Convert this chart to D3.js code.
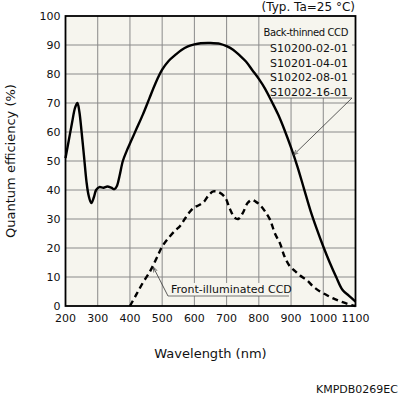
<!DOCTYPE html>
<html lang="en">
<head>
  <meta charset="UTF-8">
  <title>Quantum efficiency vs wavelength</title>
  <script src="https://d3js.org/d3.v7.min.js"></script>
  <style>
    body { margin: 0; background: #fff; }
    text { font-family: "DejaVu Sans", Verdana, sans-serif; fill: #111; }
    .tick-label { font-size: 11px; }
    .axis-title { font-size: 13px; }
    .note { font-size: 11px; }
  </style>
</head>
<body>
  <div id="chart"></div>

  <script>
    // back-thinned CCD curve (wavelength nm, QE %)
    const btWave = [200, 210, 220, 230, 237, 243, 250, 258, 265, 272, 280, 288, 295, 305, 318, 330, 342, 352, 360, 368, 378, 390, 400, 420, 440, 460, 480, 500, 520, 540, 560, 580, 600, 620, 650, 680, 700, 720, 740, 760, 780, 800, 820, 840, 860, 880, 900, 920, 940, 960, 980, 1000, 1020, 1040, 1060, 1080, 1100];
    const btQE = [51, 57, 63, 68.5, 70, 67, 60, 51, 43, 38, 35.5, 37.5, 40, 41, 40.8, 41.2, 40.8, 40.3, 41.5, 45, 50, 53.5, 56, 61, 66, 71.5, 77, 81.5, 84.5, 86.5, 88.3, 89.5, 90.2, 90.6, 90.7, 90.4, 89.6, 88.4, 86.5, 84.3, 81.3, 78.3, 74.8, 70.5, 66, 60.6, 54.6, 48, 40.5, 33, 26.5, 20.5, 15, 10, 5.5, 3.5, 1.5];

    // front-illuminated CCD curve
    const fiWave = [400, 420, 440, 460, 472, 485, 500, 520, 540, 555, 570, 586, 600, 615, 630, 645, 659, 675, 695, 710, 725, 736, 750, 765, 778, 790, 804, 820, 835, 850, 866, 880, 897, 915, 928, 950, 969, 990, 1010, 1031, 1060, 1088, 1100];
    const fiQE = [0, 4, 8, 11.5, 14, 17, 20.5, 23.5, 26, 27.5, 30, 32.5, 34, 34.8, 36, 38.3, 39.5, 39.3, 37.5, 33.5, 30.5, 30, 32, 35.5, 36.6, 36, 34.8, 32.5, 29.7, 25, 21.5, 17, 13.6, 11.8, 10.5, 8.8, 6.7, 5, 3.8, 2.6, 1.3, 0.3, 0];

    const xTicks = [200, 300, 400, 500, 600, 700, 800, 900, 1000, 1100];
    const yTicks = [0, 10, 20, 30, 40, 50, 60, 70, 80, 90, 100];
    const btLabels = ["S10200-02-01", "S10201-04-01", "S10202-08-01", "S10202-16-01"];

    const W = 399, H = 396;
    const margin = { top: 16, left: 65.5 };
    const width = 290, height = 290;
    const bg = "#f6f5ee";

    const svg = d3.select("#chart").append("svg")
      .attr("width", W).attr("height", H);

    const defs = svg.append("defs");
    defs.append("marker")
      .attr("id", "arrow")
      .attr("viewBox", "0 0 10 10")
      .attr("refX", 10).attr("refY", 5)
      .attr("markerWidth", 7).attr("markerHeight", 7)
      .attr("orient", "auto")
      .append("path")
      .attr("d", "M0,1.5 L10,5 L0,8.5")
      .attr("fill", "none")
      .attr("stroke", "#333")
      .attr("stroke-width", 1.2);

    const g = svg.append("g")
      .attr("transform", `translate(${margin.left},${margin.top})`);

    const x = d3.scaleLinear().domain([200, 1100]).range([0, width]);
    const y = d3.scaleLinear().domain([0, 100]).range([height, 0]);

    g.append("rect")
      .attr("width", width).attr("height", height)
      .attr("fill", bg);

    // grid
    g.selectAll(".vgrid").data(xTicks.slice(1, -1)).enter()
      .append("line")
      .attr("x1", d => x(d)).attr("x2", d => x(d))
      .attr("y1", 0).attr("y2", height)
      .attr("stroke", "#8a8a8a").attr("stroke-width", 1);
    g.selectAll(".hgrid").data(yTicks.slice(1, -1)).enter()
      .append("line")
      .attr("y1", d => y(d)).attr("y2", d => y(d))
      .attr("x1", 0).attr("x2", width)
      .attr("stroke", "#8a8a8a").attr("stroke-width", 1);

    // tick labels
    g.selectAll(".xl").data(xTicks).enter()
      .append("text")
      .attr("class", "tick-label")
      .attr("x", d => x(d)).attr("y", height + 16)
      .attr("text-anchor", "middle")
      .text(d => d);
    g.selectAll(".yl").data(yTicks).enter()
      .append("text")
      .attr("class", "tick-label")
      .attr("x", -5).attr("y", d => y(d) + 4)
      .attr("text-anchor", "end")
      .text(d => d);

    const line = d3.line()
      .x(d => x(d[0])).y(d => y(d[1]))
      .curve(d3.curveCatmullRom.alpha(0.5));

    g.append("path")
      .datum(fiWave.map((w, i) => [w, fiQE[i]]))
      .attr("d", line)
      .attr("fill", "none")
      .attr("stroke", "#000")
      .attr("stroke-width", 2.4)
      .attr("stroke-dasharray", "6,4");

    g.append("path")
      .datum(btWave.map((w, i) => [w, btQE[i]]))
      .attr("d", line)
      .attr("fill", "none")
      .attr("stroke", "#000")
      .attr("stroke-width", 2.4);

    // back-thinned label
    const bx1 = 272 - margin.left, bx2 = 352 - margin.left, by = 98 - margin.top;
    g.append("rect")
      .attr("x", bx1).attr("y", 1)
      .attr("width", bx2 - bx1).attr("height", by - 1)
      .attr("fill", bg);
    g.append("line")
      .attr("x1", bx1).attr("x2", bx2).attr("y1", by).attr("y2", by)
      .attr("stroke", "#555").attr("stroke-width", 0.8);
    g.append("line")
      .attr("x1", bx2).attr("y1", by)
      .attr("x2", x(907)).attr("y2", y(52))
      .attr("stroke", "#333").attr("stroke-width", 0.8)
      .attr("marker-end", "url(#arrow)");
    g.append("text")
      .attr("x", bx2 - 4).attr("y", 36 - margin.top)
      .attr("text-anchor", "end")
      .style("font-size", "10px")
      .style("letter-spacing", "-0.4px")
      .text("Back-thinned CCD");
    g.selectAll(".btl").data(btLabels).enter()
      .append("text")
      .attr("class", "note")
      .attr("x", bx2 - 4)
      .attr("y", (d, i) => 52 - margin.top + i * 14.5)
      .attr("text-anchor", "end")
      .text(d => d);

    // front-illuminated label
    const fx1 = 168 - margin.left, fx2 = 289 - margin.left, fy = 296 - margin.top;
    g.append("rect")
      .attr("x", fx1).attr("y", fy - 13)
      .attr("width", fx2 - fx1).attr("height", 13)
      .attr("fill", bg);
    g.append("line")
      .attr("x1", fx1).attr("x2", fx2).attr("y1", fy).attr("y2", fy)
      .attr("stroke", "#555").attr("stroke-width", 0.8);
    g.append("line")
      .attr("x1", fx1).attr("y1", fy)
      .attr("x2", x(472)).attr("y2", y(13.5))
      .attr("stroke", "#333").attr("stroke-width", 0.8)
      .attr("marker-end", "url(#arrow)");
    g.append("text")
      .attr("class", "note")
      .attr("x", fx1 + 3).attr("y", fy - 3)
      .text("Front-illuminated CCD");

    // frame
    g.append("rect")
      .attr("width", width).attr("height", height)
      .attr("fill", "none")
      .attr("stroke", "#000").attr("stroke-width", 1.8);

    // titles
    svg.append("text")
      .attr("class", "axis-title")
      .attr("x", margin.left + width / 2).attr("y", 358)
      .attr("text-anchor", "middle")
      .text("Wavelength (nm)");
    svg.append("text")
      .attr("class", "axis-title")
      .attr("transform", `translate(15,${margin.top + height / 2}) rotate(-90)`)
      .attr("text-anchor", "middle")
      .text("Quantum efficiency (%)");
    svg.append("text")
      .attr("class", "note")
      .attr("x", 355).attr("y", 11)
      .attr("text-anchor", "end")
      .style("font-size", "12px")
      .text("(Typ. Ta=25 °C)");
    svg.append("text")
      .attr("class", "note")
      .attr("x", 398).attr("y", 393)
      .attr("text-anchor", "end")
      .text("KMPDB0269EC");
  </script>
</body>
</html>
